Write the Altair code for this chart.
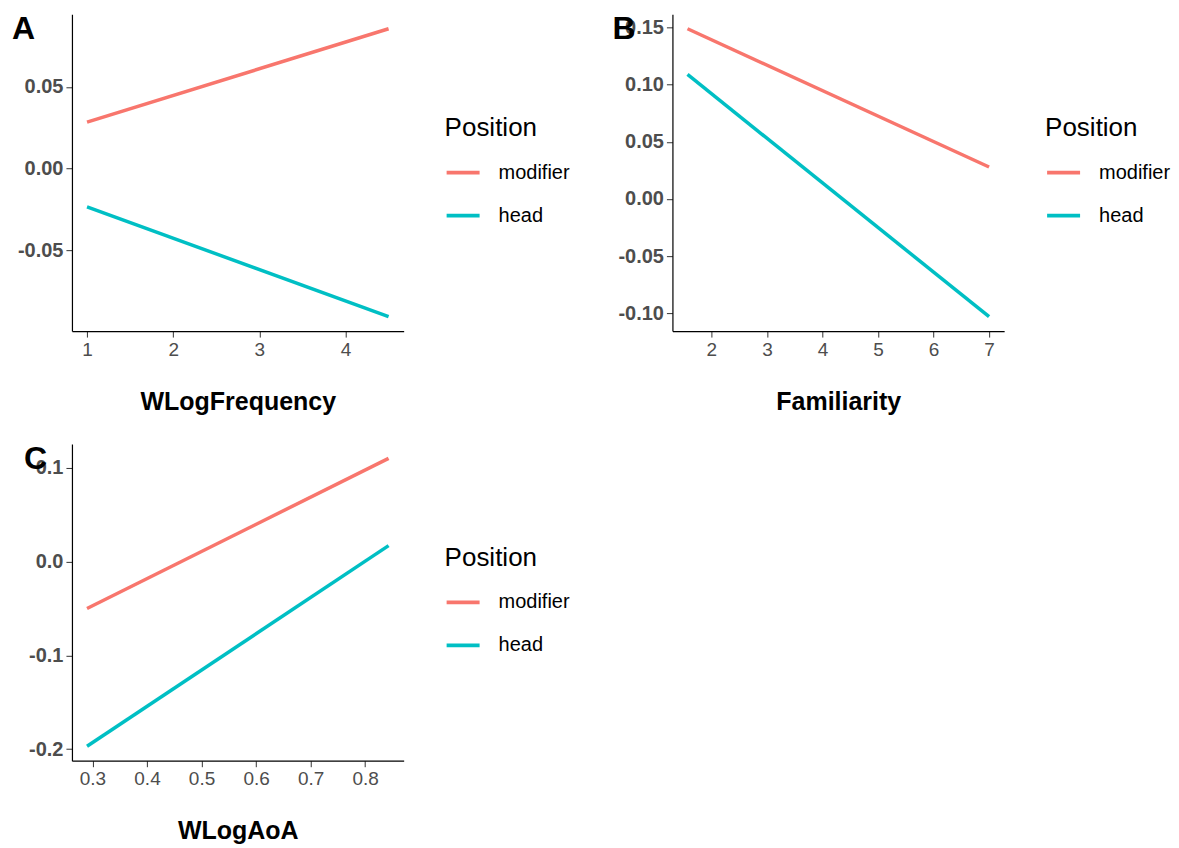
import altair as alt
import pandas as pd

positions = ["modifier", "head"]
colors = ["#F8766D", "#00BFC4"]

# Panel A: WLogFrequency
a_x = [1.0, 4.5]
a_mod = [0.0285, 0.0856]
a_head = [-0.0233, -0.0905]

# Panel B: Familiarity
b_x = [1.57, 7.0]
b_mod = [0.149, 0.028]
b_head = [0.109, -0.103]

# Panel C: WLogAoA
c_x = [0.29, 0.843]
c_mod = [-0.050, 0.110]
c_head = [-0.197, 0.017]

FONT = "Liberation Sans"


def frame(xs, mod, head):
    rows = []
    for x, y in zip(xs, mod):
        rows.append({"x": x, "y": y, "Position": "modifier"})
    for x, y in zip(xs, head):
        rows.append({"x": x, "y": y, "Position": "head"})
    return pd.DataFrame(rows)


def expand(lo, hi, f=0.05):
    d = (hi - lo) * f
    return [lo - d, hi + d]


def minus_expr(fmt):
    return ("datum.value < 0 ? '-' + format(-datum.value, '%s') : format(datum.value, '%s')" % (fmt, fmt))


def panel(df, xtitle, letter, letter_dx, xticks, xfmt, yticks, yfmt, ydomain_vals):
    xdom = expand(min(df["x"]), max(df["x"]))
    ydom = expand(min(ydomain_vals), max(ydomain_vals))
    line = alt.Chart(df).mark_line(strokeWidth=3.5, clip=True).encode(
        x=alt.X("x:Q", title=xtitle,
                scale=alt.Scale(domain=xdom, nice=False, zero=False),
                axis=alt.Axis(values=xticks, labelExpr=minus_expr(xfmt),
                              labelFontWeight="normal", labelFontSize=19, titlePadding=30)),
        y=alt.Y("y:Q", title=None,
                scale=alt.Scale(domain=ydom, nice=False, zero=False),
                axis=alt.Axis(values=yticks, labelExpr=minus_expr(yfmt),
                              labelFontWeight="bold", labelFontSize=20)),
        color=alt.Color("Position:N",
                        scale=alt.Scale(domain=positions, range=colors),
                        legend=alt.Legend(title="Position", orient="none",
                                          legendX=373, legendY=101)),
    )
    lab = alt.Chart(pd.DataFrame({"t": [letter]})).mark_text(
        font=FONT, fontSize=32, fontWeight="bold", align="left", baseline="top", color="black"
    ).encode(text="t:N", x=alt.value(letter_dx), y=alt.value(0))
    return alt.layer(line, lab).properties(width=332, height=317)


dfa = frame(a_x, a_mod, a_head)
dfb = frame(b_x, b_mod, b_head)
dfc = frame(c_x, c_mod, c_head)

A = panel(dfa, "WLogFrequency", "A", -60, [1, 2, 3, 4], "d", [-0.05, 0.0, 0.05], ".2f", a_mod + a_head)
B = panel(dfb, "Familiarity", "B", -60, [2, 3, 4, 5, 6, 7], "d", [-0.10, -0.05, 0.0, 0.05, 0.10, 0.15], ".2f", b_mod + b_head)
C = panel(dfc, "WLogAoA", "C", -48, [0.3, 0.4, 0.5, 0.6, 0.7, 0.8], ".1f", [-0.2, -0.1, 0.0, 0.1], ".1f", c_mod + c_head)

top = alt.hconcat(A, B, spacing=42).resolve_scale(color="independent", x="independent", y="independent")
chart = alt.concat(top, C, columns=1, spacing=29, align="none").resolve_scale(
    color="independent", x="independent", y="independent"
).configure_view(
    stroke=None
).configure_axis(
    grid=False,
    domainColor="black",
    domainWidth=1.2,
    tickColor="#333333",
    tickSize=6,
    labelFont=FONT,
    labelColor="#4D4D4D",
    labelPadding=3,
    titleFont=FONT,
    titleFontSize=25,
    titleFontWeight="bold",
    titleColor="black",
).configure_legend(
    titleFont=FONT,
    titleFontSize=26,
    titleFontWeight="normal",
    titleColor="black",
    titlePadding=13,
    labelFont=FONT,
    labelFontSize=20,
    labelColor="black",
    labelOffset=17,
    symbolType="stroke",
    symbolStrokeWidth=3.8,
    symbolSize=1089,
    rowPadding=14,
).properties(padding={"left": 4, "top": 5, "right": 0, "bottom": 0})

chart.save("out.html", embed_options={"renderer": "svg", "actions": False})
